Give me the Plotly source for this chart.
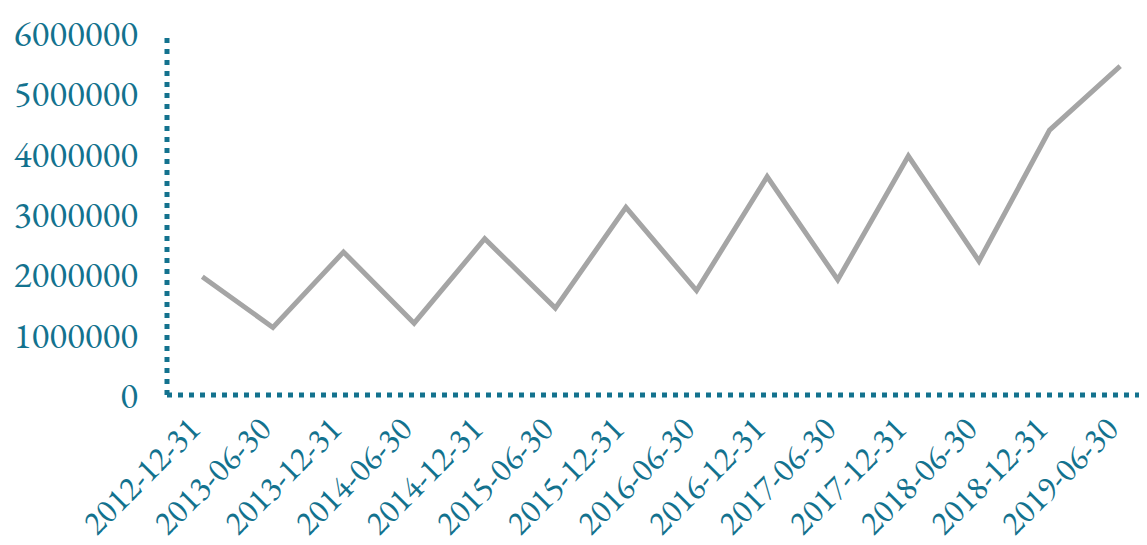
import plotly.graph_objects as go

dates = ["2012-12-31", "2013-06-30", "2013-12-31", "2014-06-30", "2014-12-31",
         "2015-06-30", "2015-12-31", "2016-06-30", "2016-12-31", "2017-06-30",
         "2017-12-31", "2018-06-30", "2018-12-31", "2019-06-30"]
values = [1960000, 1120000, 2370000, 1190000, 2590000, 1440000, 3110000,
          1730000, 3620000, 1910000, 3960000, 2220000, 4390000, 5450000]
y_ticks = [0, 1000000, 2000000, 3000000, 4000000, 5000000, 6000000]

teal = "#13728e"
font_family = "EB Garamond, Garamond, Liberation Serif, serif"

fig = go.Figure()
fig.add_trace(go.Scatter(
    x=dates, y=values, mode="lines",
    line=dict(color="#a5a5a5", width=5),
    hoverinfo="x+y",
))

fig.update_layout(
    width=1139, height=537,
    margin=dict(l=159, r=0, t=25, b=150),
    paper_bgcolor="white", plot_bgcolor="white",
    showlegend=False,
    font=dict(family=font_family, color=teal, size=37),
    xaxis=dict(
        type="category", range=[-0.5, 13.38], automargin=False,
        showgrid=False, zeroline=False, showline=False,
        tickangle=-45, ticks="", ticklabelstandoff=6, ticklabelshift=-12,
        tickfont=dict(size=34, color=teal),
    ),
    yaxis=dict(
        range=[0, 6000000], tickvals=y_ticks, automargin=False,
        ticktext=[str(v) for v in y_ticks],
        showgrid=False, zeroline=False, showline=False,
        ticks="", ticklabelstandoff=28,
        tickfont=dict(size=37, color=teal),
    ),
    shapes=[
        dict(type="line", xref="paper", yref="paper", x0=0, x1=0, y0=0, y1=1,
             line=dict(color=teal, width=5, dash="5px,6px")),
        dict(type="line", xref="paper", yref="paper", x0=0, x1=1, y0=0, y1=0,
             line=dict(color=teal, width=5, dash="5px,6px")),
    ],
)

fig.write_html("out.html")
